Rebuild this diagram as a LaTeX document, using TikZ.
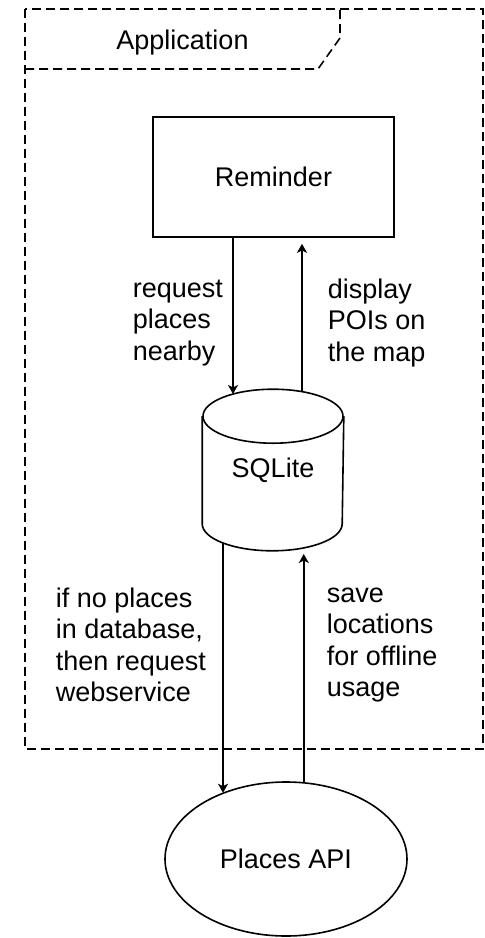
\documentclass[tikz,border=0pt]{standalone}
\usepackage{fontspec}
\setmainfont{Liberation Sans}
\usetikzlibrary{shapes.geometric,arrows.meta}
\begin{document}
\begin{tikzpicture}[x=0.5pt, y=-0.5pt, line width=0.8pt,
    >={Stealth[length=4.5pt, width=5pt, inset=1.2pt]},
    every node/.style={font=\fontsize{13.5pt}{15.75pt}\selectfont},
    frame/.style={dash pattern=on 4.5pt off 2.5pt},
    lbl/.style={align=left, inner sep=0pt, anchor=west}]
  \useasboundingbox (0,0) rectangle (485,938);
  % application frame
  \draw [frame] (25,9) rectangle (483,749);
  \draw [frame] (25,69) -- (318,69) -- (340,38) -- (340,9);
  \node (app) at (182.5,43) {Application};
  % components
  \node [draw, minimum width=120.5pt, minimum height=60pt] (rem) at (273.5,177) {Reminder};
  \node [minimum width=70pt, minimum height=80pt, inner sep=0pt] (db) at (273,470) {SQLite};
  \draw ([yshift=-13.5pt]db.north west) -- ([yshift=13.5pt]db.south west)
    arc [start angle=180, end angle=360, x radius=35pt, y radius=13.5pt]
    -- ([yshift=-13.5pt]db.north east);
  \draw ([yshift=-13.5pt]db.north) ellipse [x radius=35pt, y radius=13.5pt];
  \node [draw, ellipse, minimum width=121pt, minimum height=77pt] (api) at (286,859) {Places API};
  % arrows
  \draw [->] ([xshift=-20pt]db.north |- rem.south) -- ([xshift=-20pt, yshift=-2.4pt]db.north);
  \draw [->, shorten >=3pt] ([xshift=14.5pt, yshift=-1.2pt]db.north) -- ([xshift=14.5pt]db.north |- rem.south);
  \draw [->] ([xshift=-25pt, yshift=4pt]db.south) -- ([xshift=-25pt]db.south |- api.134);
  \draw [->, shorten >=3pt] (api.77) -- ([yshift=1.4pt]api.77 |- db.south);
  % labels
  \node [lbl] (req) at (132,323) {request\\places\\nearby};
  \node [lbl] (disp) at (327,323) {display\\POIs on\\the map};
  \node [lbl] (noplaces) at (55,645) {if no places\\in database,\\then request\\webservice};
  \node [lbl] (save) at (326,645) {save\\locations\\for offline\\usage};
\end{tikzpicture}
\end{document}
